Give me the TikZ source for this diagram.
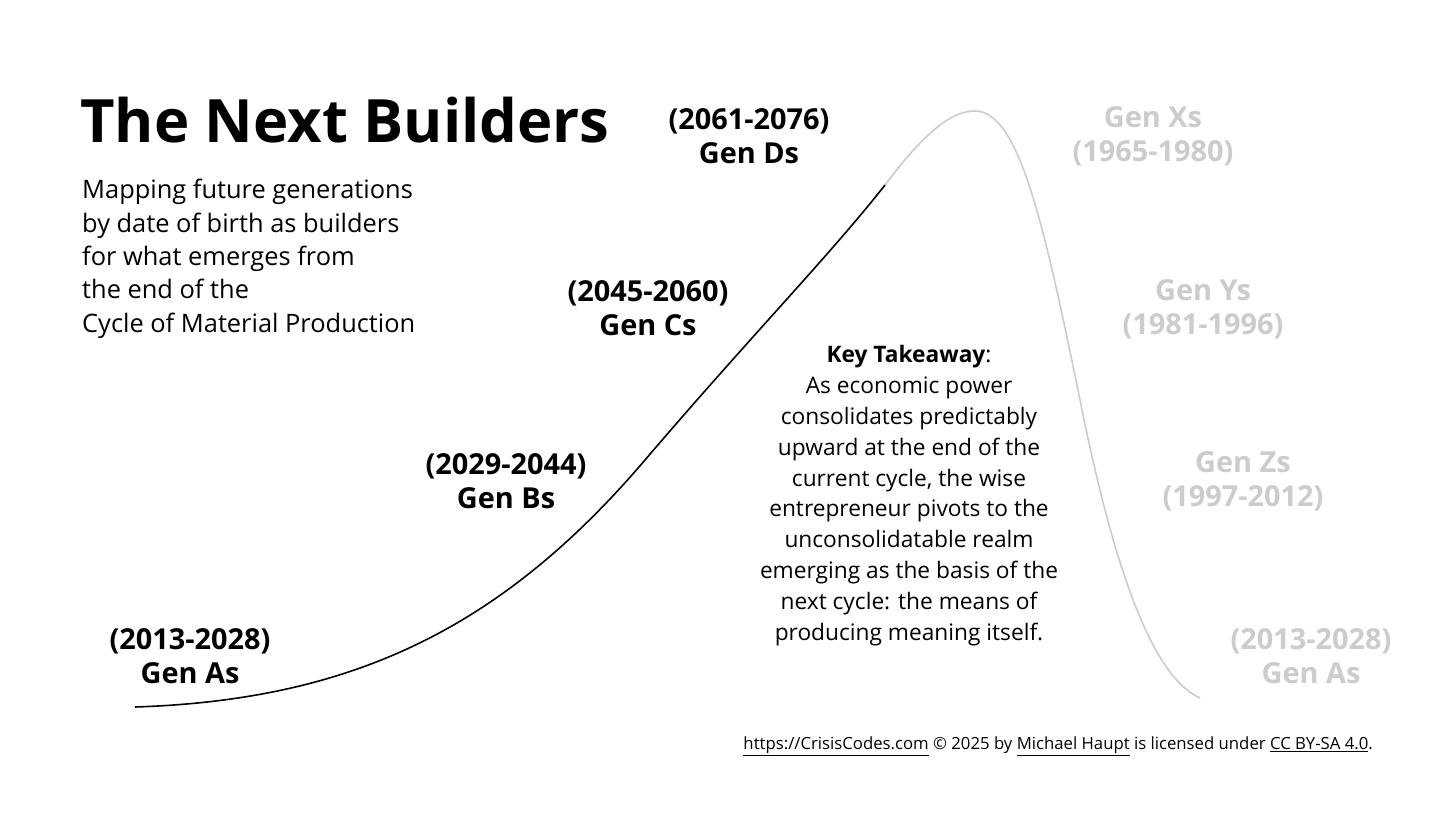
\documentclass[tikz,border=0pt]{standalone}
\usepackage{fontspec}
\setmainfont{Open Sans}
\begin{document}
\begin{tikzpicture}[x=1bp,y=-1bp,
 lbl/.style={font=\fontsize{29}{34}\selectfont\bfseries,align=center,inner sep=0},
 glbl/.style={lbl,text=black!20},
 body/.style={font=\fontsize{25.5}{33.5}\selectfont,align=left,inner sep=0}]
\useasboundingbox[fill=white] (0,0) rectangle (1456,819);
\node[anchor=west,inner sep=0,font=\fontsize{60}{62}\selectfont\bfseries] (title) at (80,120) {The Next Builders};
\node[anchor=north west,body] (desc) at (82,179) {Mapping future generations\\by date of birth as builders\\for what emerges from\\the end of the\\Cycle of Material Production};
\draw[black!20,line width=1.6pt] (885,185) .. controls (930,125) and (955,111) .. (975,111) .. controls (1020,111) and (1045,230) .. (1080,400) .. controls (1120,600) and (1160,680) .. (1200,698);
\draw[black,line width=1.6pt] (135,707) .. controls (350,700) and (500,630) .. (645,460) .. controls (750,337) and (830,255) .. (885,185);
\node[lbl] (a) at (190,656) {(2013-2028)\\Gen As};
\node[lbl] (b) at (506,481) {(2029-2044)\\Gen Bs};
\node[lbl] (c) at (648,308) {(2045-2060)\\Gen Cs};
\node[lbl] (d) at (749,136) {(2061-2076)\\Gen Ds};
\node[glbl] (x) at (1153,136) {Gen Xs\\(1965-1980)};
\node[glbl] (y) at (1203,309) {Gen Ys\\(1981-1996)};
\node[glbl] (z) at (1243,481) {Gen Zs\\(1997-2012)};
\node[glbl] (a2) at (1311,656) {(2013-2028)\\Gen As};
\node[inner sep=0,align=center,font=\fontsize{22.8}{31}\selectfont,anchor=north] (kt) at (909,345) {\textbf{Key Takeaway}:\\As economic power\\consolidates predictably\\upward at the end of the\\current cycle, the wise\\entrepreneur pivots to the\\unconsolidatable realm\\emerging as the basis of the\\next cycle: the means of\\producing meaning itself.};
\node[anchor=east,inner sep=0,font=\fontsize{16.8}{18}\selectfont] (ft) at (1373,746) {\underline{https://CrisisCodes.com} © 2025 by \underline{Michael Haupt} is licensed under \underline{CC BY-SA 4.0}.};
\end{tikzpicture}
\end{document}
